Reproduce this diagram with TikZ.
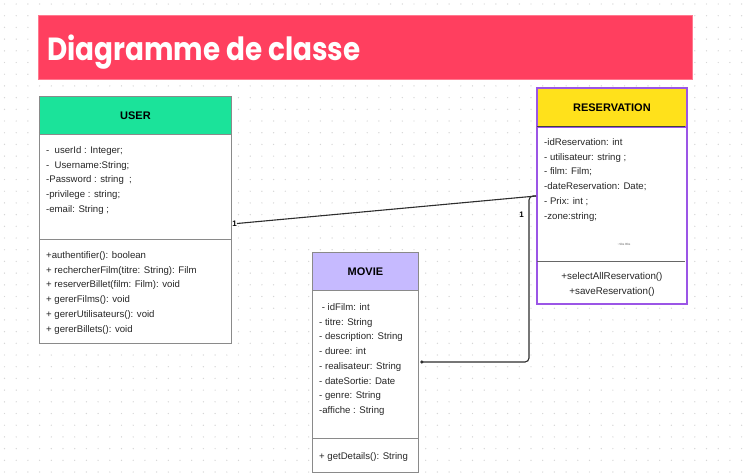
\documentclass[tikz,border=0pt]{standalone}
\usepackage{fontspec}
\usepackage{graphicx}
\setmainfont{Liberation Sans}
\newfontfamily\poppins{Poppins}
\definecolor{banner}{HTML}{FF3F5F}
\definecolor{usergreen}{HTML}{1BE39A}
\definecolor{movielav}{HTML}{C6BAFF}
\definecolor{resyellow}{HTML}{FFE11B}
\definecolor{respurple}{HTML}{9B55E6}
\definecolor{boxgray}{HTML}{8A8A8A}
\definecolor{dotgray}{HTML}{D6D6D6}
\definecolor{linegray}{HTML}{2E2E2E}
\tikzset{
  classbox/.style={draw=boxgray, line width=0.9pt, fill=white, inner sep=0pt, anchor=north west},
  headbox/.style={draw=boxgray, line width=0.9pt, inner sep=0pt, anchor=north west},
  headtxt/.style={font=\fontsize{11}{13}\selectfont\bfseries, text=black, inner sep=0pt},
  attr/.style={font=\fontsize{9.6}{12}\selectfont, text=black!85, anchor=base west, inner sep=0pt},
  mult/.style={font=\fontsize{8}{10}\selectfont\bfseries, text=black, inner sep=0pt},
  conn/.style={draw=linegray, line width=1.1pt},
}
\begin{document}
\begin{tikzpicture}[x=1pt,y=-1pt]
\useasboundingbox (0,0) rectangle (746,475);
\fill[white] (0,0) rectangle (746,475);
% dotted background grid
\foreach \i in {0,...,63}{
  \foreach \j in {0,...,40}{
    \fill[dotgray] ({\i*11.7+4.5},{\j*11.7+4}) circle (0.7);
  }
}
% title banner
\node[fill=banner, draw=banner!70!white, line width=0.6pt, minimum width=654, minimum height=64, inner sep=0pt, anchor=north west] (bannerbox) at (38,15) {};
\node[anchor=base west, inner sep=0pt, text=white, font=\poppins\bfseries\fontsize{32}{35}\selectfont] (title) at (47,60) {\scalebox{0.87}[1]{Diagramme de classe}};

% USER class
\node[classbox, minimum width=192, minimum height=247] (user) at (39,96) {};
\node[headbox, fill=usergreen, minimum width=192, minimum height=38] (userhead) at (39,96) {};
\node[headtxt] (usertitle) at (userhead.center) {USER};
\draw[boxgray, line width=0.9pt] (39,239) -- (231,239);
\node[attr] (ua1) at (46,153.5) {-\ \ userId : Integer;};
\node[attr] (ua2) at (46,168.2) {-\ \ Username:String;};
\node[attr] (ua3) at (46,182.9) {-Password : string\ \ ;};
\node[attr] (ua4) at (46,197.6) {-privilege : string;};
\node[attr] (ua5) at (46,212.3) {-email: String ;};
\node[attr] (um1) at (46,258.5) {+authentifier(): boolean};
\node[attr] (um2) at (46,273.2) {+ rechercherFilm(titre: String): Film};
\node[attr] (um3) at (46,287.9) {+ reserverBillet(film: Film): void};
\node[attr] (um4) at (46,302.6) {+ gererFilms(): void};
\node[attr] (um5) at (46,317.3) {+ gererUtilisateurs(): void};
\node[attr] (um6) at (46,332) {+ gererBillets(): void};

% MOVIE class
\node[classbox, minimum width=106, minimum height=220] (movie) at (312,252) {};
\node[headbox, fill=movielav, minimum width=106, minimum height=38] (moviehead) at (312,252) {};
\node[headtxt] (movietitle) at (moviehead.center) {MOVIE};
\draw[boxgray, line width=0.9pt] (312,438) -- (418,438);
\node[attr] (ma1) at (319,310.5) {\ -\ idFilm: int};
\node[attr] (ma2) at (319,325.2) {- titre: String};
\node[attr] (ma3) at (319,339.9) {- description: String};
\node[attr] (ma4) at (319,354.6) {- duree: int};
\node[attr] (ma5) at (319,369.3) {- realisateur: String};
\node[attr] (ma6) at (319,384) {- dateSortie: Date};
\node[attr] (ma7) at (319,398.7) {- genre: String};
\node[attr] (ma8) at (319,413.4) {-affiche : String};
\node[attr] (mm1) at (319,459.5) {+ getDetails(): String};

% RESERVATION class
\node[classbox, draw=respurple, line width=1.8pt, minimum width=150, minimum height=216] (res) at (536,87) {};
\node[headbox, fill=resyellow, draw=respurple, line width=1.8pt, minimum width=150, minimum height=39] (reshead) at (536,87) {};
\draw[black!75, line width=0.9pt] (536.9,126) -- (685.1,126);
\node[headtxt] (restitle) at (reshead.center) {RESERVATION};
\draw[black!60, line width=0.9pt] (536.9,261) -- (685.1,261);
\node[attr] (ra1) at (544,145.5) {-idReservation: int};
\node[attr] (ra2) at (544,160.2) {- utilisateur: string ;};
\node[attr] (ra3) at (544,174.9) {- film: Film;};
\node[attr] (ra4) at (544,189.6) {-dateReservation: Date;};
\node[attr] (ra5) at (544,204.3) {- Prix: int ;};
\node[attr] (ra6) at (544,219) {-zone:string;};
\node[inner sep=0pt, font=\fontsize{3}{4}\selectfont, text=black!60] (rtiny) at (624,244) {\textasciitilde Sbs Bbs};
\node[inner sep=0pt, font=\fontsize{9.8}{12}\selectfont, text=black!85] (rm1) at (612,277) {+selectAllReservation()};
\node[inner sep=0pt, font=\fontsize{9.8}{12}\selectfont, text=black!85] (rm2) at (612,291.5) {+saveReservation()};

% connectors
\coordinate (u1) at ([xshift=5pt]user.east |- 0,223.5);
\coordinate (r1) at (res.west |- 0,196);
\coordinate (m1) at ([xshift=3pt]movie.east |- 0,362);
\draw[conn] (u1) -- (r1);
\draw[conn, rounded corners=4pt] (m1) -| (529,196) -- (r1);
\fill[linegray] (m1) circle (1.8);
\node[mult] (mu) at (234.5,224) {1};
\node[mult] (mr) at (521.5,215) {1};
\end{tikzpicture}
\end{document}
